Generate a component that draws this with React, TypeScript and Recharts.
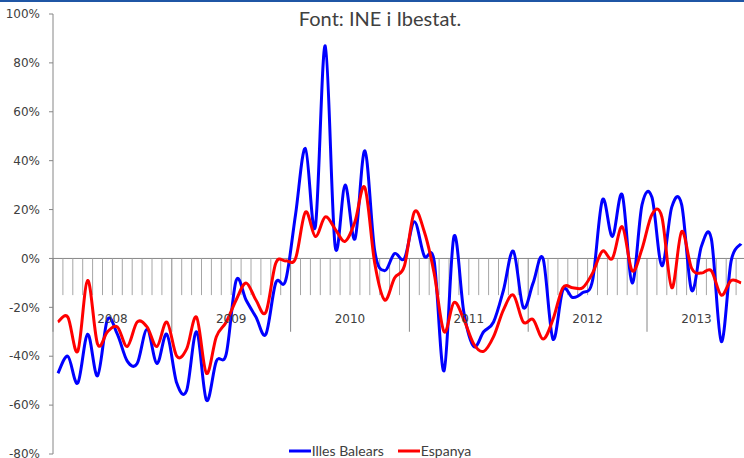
import { LineChart, Line, XAxis, YAxis, ReferenceLine, Legend } from 'recharts';

const years = ['2008', '2009', '2010', '2011', '2012', '2013'];
const monthCodes = ['01', '02', '03', '04', '05', '06', '07', '08', '09', '10', '11', '12'];
const monthCount = 70; // gen 2008 - oct 2013

// Year label sits over the middle of each year's months
const yearLabelMonths = ['2008-07', '2009-07', '2010-07', '2011-07', '2012-07', '2013-06'];

const seriesNames = ['Illes Balears', 'Espanya'];

const balears = [
  -47, -40, -51, -31, -48, -25, -31, -42, -43, -29, -43, -31,
  -51, -54, -30, -58, -42, -39, -9, -17, -24, -31, -10, -9,
  18, 45, 13, 87, 5, 30, 8, 44, 3, -5, 2, 0,
  15, 1, -1, -46, 9, -22, -36, -30, -26, -13, 3, -20,
  -10, 0, -33, -13, -16, -14, -9, 24, 9, 26, -10, 22,
  25, -3, 21, 22, -13, 5, 8, -34, -1, 6,
];

const espanya = [
  -26, -24, -38, -9, -35, -30, -28, -36, -26, -28, -36, -26,
  -40, -37, -24, -47, -32, -26, -17, -10, -17, -22, -2, -1,
  0, 19, 9, 17, 12, 7, 15, 29, -2, -17, -8, -3,
  19, 11, -6, -30, -18, -25, -35, -38, -32, -21, -15, -26,
  -25, -33, -25, -12, -12, -12, -6, 3, 0, 13, -5, 4,
  18, 17, -12, 11, -4, -6, -5, -15, -9, -10,
];

const yTicks = [-80, -60, -40, -20, 0, 20, 40, 60, 80, 100];

const months = years.flatMap((y) => monthCodes.map((m) => `${y}-${m}`)).slice(0, monthCount);

const data = months.map((m, i) => ({ month: m, balears: balears[i], espanya: espanya[i] }));

// smoothed line like the spreadsheet one (catmull-rom through every point)
const smoothCurve = (context: any) => {
  let pts: [number, number][] = [];
  return {
    areaStart() {},
    areaEnd() {},
    lineStart() {
      pts = [];
    },
    lineEnd() {
      if (!pts.length) return;
      context.moveTo(pts[0][0], pts[0][1]);
      for (let i = 0; i < pts.length - 1; i++) {
        const p0 = pts[i - 1] || pts[i];
        const p1 = pts[i];
        const p2 = pts[i + 1];
        const p3 = pts[i + 2] || p2;
        context.bezierCurveTo(
          p1[0] + (p2[0] - p0[0]) / 6,
          p1[1] + (p2[1] - p0[1]) / 6,
          p2[0] - (p3[0] - p1[0]) / 6,
          p2[1] - (p3[1] - p1[1]) / 6,
          p2[0],
          p2[1]
        );
      }
    },
    point(x: number, y: number) {
      pts.push([+x, +y]);
    },
  };
};

const axisFont = '"DejaVu Sans", sans-serif';
const textFont = 'Lato, "Open Sans", sans-serif';

const renderLegend = (props: any) => {
  const payload = props.payload || [];
  const items = seriesNames.map((n) => payload.find((p: any) => p.value === n)).filter(Boolean);
  return (
    <div style={{ display: 'flex', justifyContent: 'center', alignItems: 'center', gap: 14 }}>
      {items.map((p: any) => (
        <span key={p.value} style={{ display: 'inline-flex', alignItems: 'center' }}>
          <svg width={22} height={6} style={{ marginRight: 1 }}>
            <line x1={0} y1={3} x2={22} y2={3} stroke={p.color} strokeWidth={3} />
          </svg>
          <span style={{ color: '#404040' }}>{p.value}</span>
        </span>
      ))}
    </div>
  );
};

export default function App() {
  return (
    <div style={{ position: 'absolute', left: 0, top: 0, width: 744, height: 458, overflow: 'hidden', background: '#fff' }}>
      <div style={{ position: 'absolute', left: 0, top: 0, width: 744, height: 2, background: '#1f56a5' }} />
      <div
        style={{
          position: 'absolute',
          left: 200,
          width: 360,
          top: 6,
          textAlign: 'center',
          fontFamily: textFont,
          fontSize: 20,
          color: '#404040',
        }}
      >
        Font: INE i Ibestat.
      </div>
      <LineChart width={746} height={458} data={data} margin={{ top: 14, right: 0, bottom: 4, left: 0 }}>
        <XAxis dataKey="month" scale="band" hide />
        <YAxis
          domain={[-80, 100]}
          ticks={yTicks}
          interval={0}
          width={53}
          tickFormatter={(v) => `${v}%`}
          axisLine={{ stroke: '#868686' }}
          tickLine={{ stroke: '#868686' }}
          tickSize={4}
          tickMargin={9}
          tick={{ fill: '#404040', fontSize: 12, fontFamily: axisFont }}
        />
        <ReferenceLine y={0} stroke="#868686" />
        {months.map((m) => (
          <ReferenceLine
            key={m}
            segment={[
              { x: m, y: 0 },
              { x: m, y: m.endsWith('-01') ? -30 : -15 },
            ]}
            position="start"
            stroke={m.endsWith('-01') ? '#868686' : '#a6a6a6'}
          />
        ))}
        {yearLabelMonths.map((m, i) => (
          <ReferenceLine
            key={`lbl-${m}`}
            segment={[
              { x: m, y: -17 },
              { x: m, y: -32 },
            ]}
            position="start"
            stroke="none"
            label={{ value: years[i], position: 'center', fill: '#404040', fontSize: 12, fontFamily: axisFont }}
          />
        ))}
        <Line
          dataKey="balears"
          name="Illes Balears"
          type={smoothCurve as any}
          stroke="#0000ff"
          strokeWidth={3}
          dot={false}
          activeDot={false}
          isAnimationActive={false}
        />
        <Line
          dataKey="espanya"
          name="Espanya"
          type={smoothCurve as any}
          stroke="#ff0000"
          strokeWidth={3}
          dot={false}
          activeDot={false}
          isAnimationActive={false}
        />
        <Legend
          verticalAlign="middle"
          align="center"
          layout="horizontal"
          content={renderLegend}
          wrapperStyle={{ top: 443, left: 7, height: 15, lineHeight: '15px', fontFamily: textFont, fontSize: 14 }}
        />
      </LineChart>
    </div>
  );
}
